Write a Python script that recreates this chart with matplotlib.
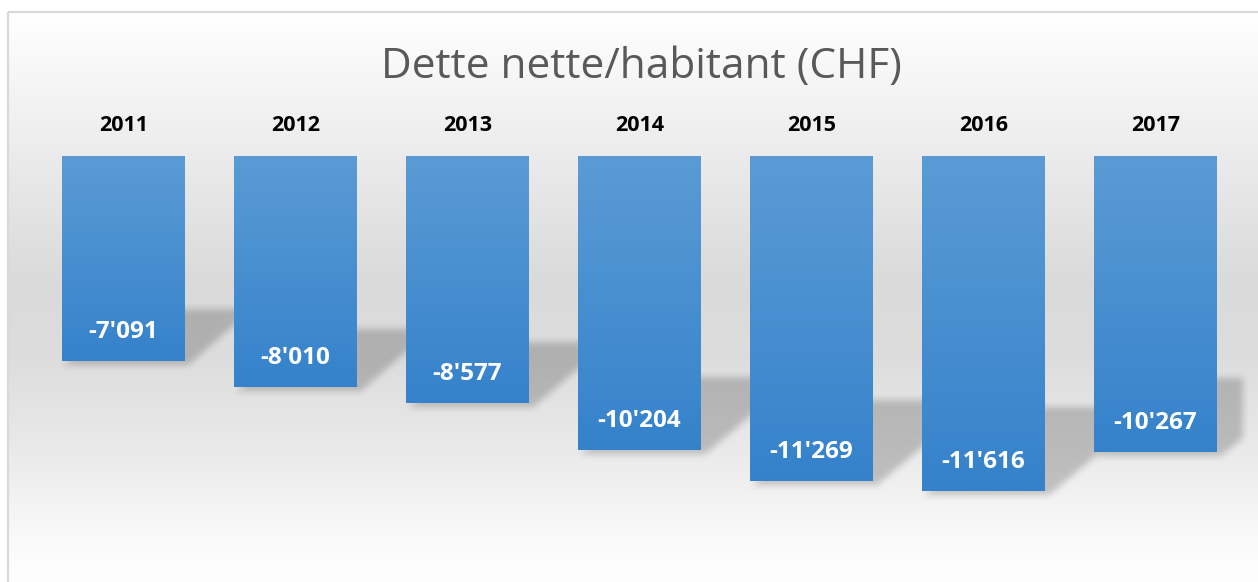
import numpy as np
import matplotlib
matplotlib.use("Agg")
import matplotlib.pyplot as plt
from matplotlib.patches import Rectangle
from matplotlib.path import Path

years = ["2011", "2012", "2013", "2014", "2015", "2016", "2017"]
dette = [-7091, -8010, -8577, -10204, -11269, -11616, -10267]
labels = ["-7'091", "-8'010", "-8'577", "-10'204", "-11'269", "-11'616", "-10'267"]
title = "Dette nette/habitant (CHF)"

W, H = 1258, 582
DPI = 100
plt.rcParams['font.family'] = ['Open Sans', 'DejaVu Sans']

# pixel layout (y measured from top)
x0_px, step_px = 123.5, 172.0
zero_px = 156.0
k = 335.0 / 11616.0          # px per CHF
bar_w = 0.715
plot_right = 1243

fig = plt.figure(figsize=(W / DPI, H / DPI), dpi=DPI)

# background gradient (white -> grey -> white)
bg = fig.add_axes([0, 0, 1, 1], zorder=0)
bg.set_axis_off()
stops_y = [0, 12, 150, 280, 360, 450, 540, 582]
stops_v = [255, 255, 236, 218, 221, 234, 250, 254]
col = np.interp(np.arange(H), stops_y, stops_v) / 255.0
grad = np.repeat(col[:, None], W, axis=1)
img = np.dstack([grad, grad, grad])
img[:12, :, :] = 1.0
img[:, :8, :] = 1.0
bg.imshow(img, extent=(0, W, H, 0), aspect='auto', interpolation='bilinear')
bg.add_patch(Rectangle((8, 12), W + 20, H + 20, fill=False, edgecolor='#d9d9d9', linewidth=1.6))
bg.set_xlim(0, W)
bg.set_ylim(H, 0)

# perspective shadow (skewed, squashed copy of each bar), blurred raster
yy, xx = np.mgrid[0:H, 0:W]
pts = np.column_stack([xx.ravel() + 0.5, yy.ravel() + 0.5])
mask = np.zeros(H * W)
half = bar_w * step_px / 2
for i, v in enumerate(dette):
    cx = x0_px + i * step_px
    L, R = cx - half, cx + half
    B = zero_px - v * k
    d = 0.25 * (B - zero_px)
    s = 1.3 * d
    poly = Path([(L + 2, B + 4), (R + 4, B + 4), (R + s, B - d), (L + s, B - d)])
    mask = np.maximum(mask, poly.contains_points(pts).astype(float))
mask = mask.reshape(H, W)
mask[:, plot_right:] = 0


def box_blur(a, r):
    kern = np.ones(2 * r + 1) / (2 * r + 1)
    a = np.apply_along_axis(lambda m: np.convolve(m, kern, mode='same'), 0, a)
    a = np.apply_along_axis(lambda m: np.convolve(m, kern, mode='same'), 1, a)
    return a


mask = box_blur(box_blur(mask, 4), 3)
shadow = np.zeros((H, W, 4))
shadow[..., 3] = mask * 0.2
bg.imshow(shadow, extent=(0, W, H, 0), aspect='auto', interpolation='bilinear', zorder=2)

# main axes mapped to pixels
ax = fig.add_axes([0, 0, 1, 1], zorder=1)
ax.patch.set_alpha(0)
ax.set_axis_off()

x = np.arange(len(years))
bars = ax.bar(x, dette, width=bar_w, color='#4a8fd1', linewidth=0, zorder=3)

top_c = np.array([0x5b, 0x9b, 0xd5]) / 255
bot_c = np.array([0x35, 0x82, 0xcb]) / 255
g = np.linspace(0, 1, 256)[:, None]
gimg = top_c[None, :] * (1 - g) + bot_c[None, :] * g
gimg = gimg[:, None, :]
for b in bars:
    bx, by = b.get_x(), b.get_y()
    bw, bh = b.get_width(), b.get_height()
    im = ax.imshow(gimg, extent=(bx, bx + bw, by + bh, by), aspect='auto',
                   interpolation='bilinear', zorder=4)
    im.set_clip_path(b)

for i, (v, lab) in enumerate(zip(dette, labels)):
    ax.text(i, v + 29 / k, lab, ha='center', va='center', color='white',
            fontsize=17.5, fontweight='bold', zorder=5)
    ax.text(i, 30 / k, years[i], ha='center', va='center', color='black',
            fontsize=15.5, fontweight='bold', zorder=5)

ax.set_xlim(-x0_px / step_px, (W - x0_px) / step_px)
ax.set_ylim(-(H - zero_px) / k, zero_px / k)

fig.text(641 / W, 1 - 67 / H, title, ha='center', va='center', color='#595959', fontsize=30.5)

fig.savefig("out.png", dpi=DPI)
